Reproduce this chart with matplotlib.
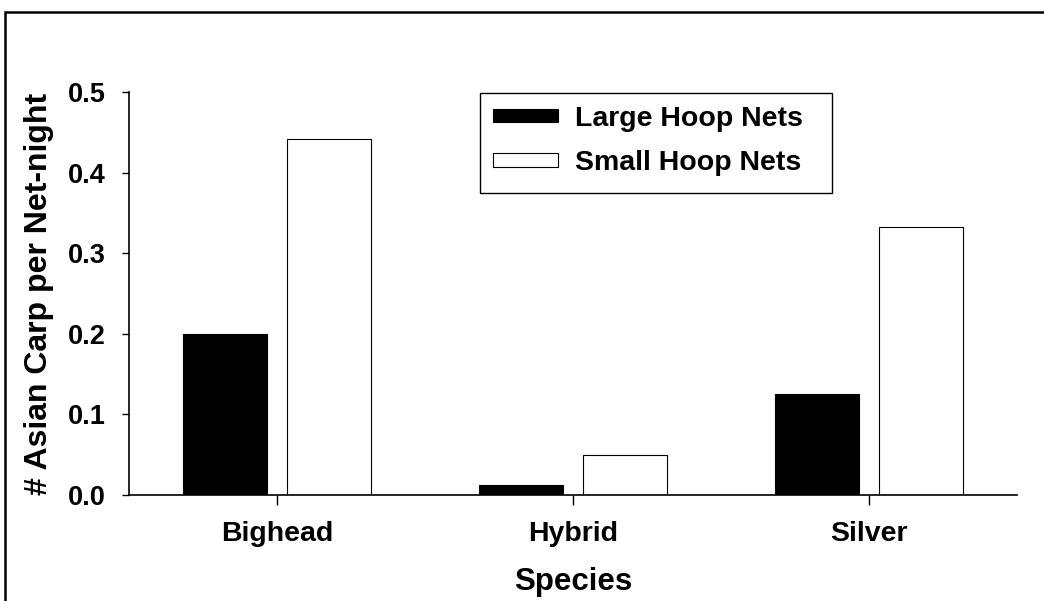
import numpy as np
import matplotlib.pyplot as plt
from matplotlib.patches import Rectangle

species = ['Bighead', 'Hybrid', 'Silver']
large_nets = [0.200, 0.0125, 0.125]
small_nets = [0.442, 0.050, 0.333]

plt.rcParams['font.family'] = ['Liberation Sans', 'DejaVu Sans']
plt.rcParams['font.weight'] = 'bold'

fig = plt.figure(figsize=(10.44, 6.01), dpi=100)
ax = fig.add_axes([0.1236, 0.1764, 0.8504, 0.6706])

ind = np.arange(len(species))
width = 0.285
off = 0.175

ax.bar(ind - off, large_nets, width, color='black', edgecolor='black', linewidth=0.8, label='Large Hoop Nets')
ax.bar(ind + off, small_nets, width, color='white', edgecolor='black', linewidth=0.8, label='Small Hoop Nets')

ax.set_xlim(-0.5, 2.5)
ax.set_ylim(0, 0.5)
ax.set_yticks([0.0, 0.1, 0.2, 0.3, 0.4, 0.5])
ax.set_yticklabels(['0.0', '0.1', '0.2', '0.3', '0.4', '0.5'])
ax.set_xticks(ind)
ax.set_xticklabels(species)

for s in ['top', 'right']:
    ax.spines[s].set_visible(False)
for s in ['left', 'bottom']:
    ax.spines[s].set_linewidth(1.2)

ax.tick_params(axis='y', direction='out', length=5, width=1, pad=12, labelsize=19.5)
ax.tick_params(axis='x', direction='out', length=7, width=1, pad=12, labelsize=20.5)
for lab in ax.get_xticklabels() + ax.get_yticklabels():
    lab.set_fontweight('bold')

ax.set_xlabel('Species', fontsize=22.5, fontweight='bold', labelpad=14)
ax.set_ylabel('# Asian Carp per Net-night', fontsize=23, fontweight='bold', labelpad=10)

leg = ax.legend(loc='upper left', bbox_to_anchor=(0.395, 0.9975), fontsize=20.5, frameon=False,
                handlelength=2.3, handleheight=0.35,
                borderpad=0.45, labelspacing=0.65, handletextpad=0.6, borderaxespad=0)
for t in leg.get_texts():
    t.set_fontweight('bold')

# legend box drawn separately (wider than the legend contents)
ax.add_patch(Rectangle((0.395, (495 - 193) / 403), (832 - 480) / 888, 100 / 403,
                       transform=ax.transAxes, fill=False, edgecolor='black', linewidth=1.0,
                       clip_on=False, zorder=5))

# outer frame around the figure
fig.patches.append(Rectangle((5 / 1044, -0.1), 1.2, 1 - 12 / 601 + 0.1, transform=fig.transFigure,
                             fill=False, edgecolor='black', linewidth=1.8))

plt.savefig('out.png', dpi=100)
plt.close()
